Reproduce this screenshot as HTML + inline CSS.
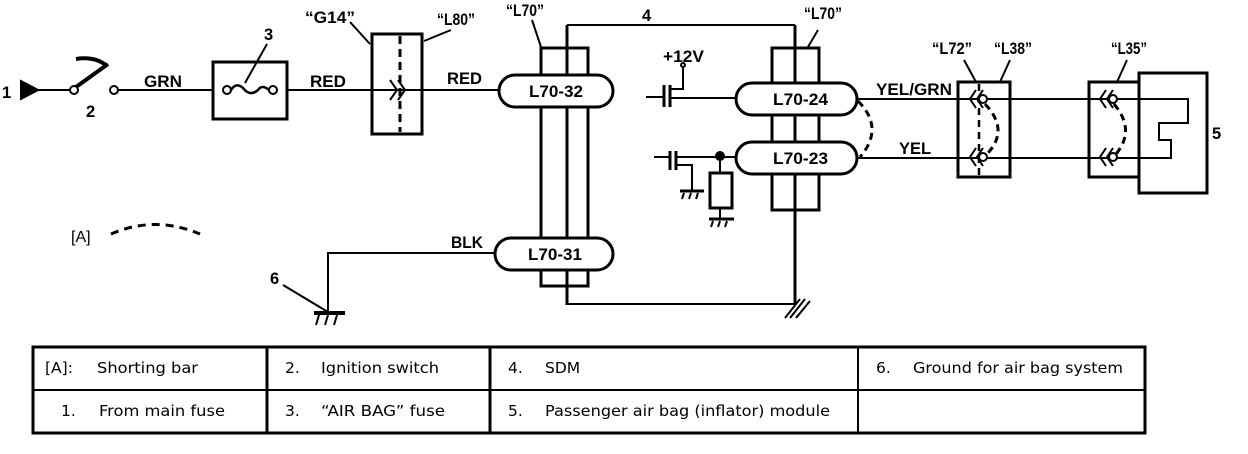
<!DOCTYPE html>
<html><head><meta charset="utf-8"><style>
html,body{margin:0;padding:0;background:#fff;}
svg{display:block;}
.l{font-family:"Liberation Sans",sans-serif;font-weight:bold;font-size:16.5px;fill:#000;}
.t{font-family:"DejaVu Sans","Liberation Sans",sans-serif;font-size:15.5px;fill:#000;}
</style></head><body>
<svg width="1248" height="454" viewBox="0 0 1248 454" xmlns="http://www.w3.org/2000/svg">
<g stroke="#000" fill="none" stroke-width="2">
<polygon points="21,81 21,99 38,90" fill="#000"/>
<line x1="38" y1="90" x2="70" y2="90"/>
<circle cx="74" cy="90" r="4"/>
<line x1="76" y1="87" x2="108" y2="64" stroke-width="4"/>
<path d="M76,59 Q95,56 107,66" stroke-width="4"/>
<circle cx="114" cy="90" r="4"/>
<line x1="118" y1="90" x2="213" y2="90"/>
<rect x="213" y="62" width="74" height="57" stroke-width="3"/>
<circle cx="227" cy="90" r="4"/><circle cx="273" cy="90" r="4"/>
<path d="M231,90 Q236,82 243,88 Q250,97 258,90 Q262,84 269,90" stroke-width="2.5"/>
<line x1="267" y1="44" x2="245" y2="83"/>
<line x1="287" y1="90" x2="499" y2="90"/>
<rect x="372" y="34" width="50" height="100" stroke-width="3"/>
<line x1="400" y1="36" x2="400" y2="132" stroke-width="3" stroke-dasharray="8,5"/>
<polyline points="390,80 397,90 390,100"/><polyline points="398,80 405,90 398,100"/>
<line x1="350" y1="22" x2="370" y2="44"/>
<line x1="451" y1="30" x2="424" y2="41"/>
<rect x="541" y="48" width="47" height="238" stroke-width="3"/>
<line x1="567" y1="25" x2="567" y2="305" stroke-width="3"/>
<line x1="567" y1="25" x2="795" y2="25" stroke-width="2"/>
<line x1="567" y1="304" x2="795" y2="304" stroke-width="2"/>
<line x1="795" y1="25" x2="795" y2="304" stroke-width="3"/>
<rect x="499" y="75" width="114" height="32" rx="16" fill="#fff" stroke-width="3"/>
<rect x="495" y="238" width="118" height="32" rx="16" fill="#fff" stroke-width="3"/>
<line x1="532" y1="20" x2="541" y2="47"/>
<polyline points="495,253 328,253 328,313"/>
<line x1="314" y1="313" x2="345" y2="313" stroke-width="4"/>
<line x1="319" y1="315" x2="316" y2="325"/><line x1="328" y1="315" x2="325" y2="325"/><line x1="337" y1="315" x2="334" y2="325"/>
<line x1="283" y1="285" x2="328" y2="312"/>
<path d="M111,234 Q155,215 200,234" stroke-width="3" stroke-dasharray="8,6"/>
<rect x="772" y="48" width="47" height="162" stroke-width="3"/>
<rect x="736" y="83" width="121" height="32" rx="16" fill="#fff" stroke-width="3"/>
<rect x="736" y="142" width="121" height="32" rx="16" fill="#fff" stroke-width="3"/>
<line x1="818" y1="30" x2="808" y2="47"/>
<line x1="785" y1="318" x2="800" y2="299" stroke-width="2"/>
<line x1="790" y1="318" x2="805" y2="299" stroke-width="2"/>
<line x1="796" y1="318" x2="810" y2="301" stroke-width="2"/>
<line x1="646" y1="97" x2="664" y2="97"/>
<line x1="664" y1="85" x2="664" y2="107" stroke-width="3"/>
<line x1="670" y1="85" x2="670" y2="107" stroke-width="3"/>
<line x1="670" y1="98" x2="736" y2="98"/>
<polyline points="683,66 683,89 671,89"/>
<circle cx="683" cy="65" r="2" fill="#fff"/>
<line x1="654" y1="157" x2="670" y2="157"/>
<line x1="670" y1="151" x2="670" y2="170" stroke-width="3"/>
<line x1="676" y1="151" x2="676" y2="170" stroke-width="3"/>
<line x1="676" y1="157" x2="736" y2="157"/>
<polyline points="676,165 692,165 692,190"/>
<line x1="680" y1="191" x2="704" y2="191" stroke-width="3"/>
<line x1="684" y1="193" x2="682" y2="199"/><line x1="691" y1="193" x2="689" y2="199"/><line x1="698" y1="193" x2="696" y2="199"/>
<circle cx="720" cy="156" r="4" fill="#000"/>
<line x1="720" y1="156" x2="720" y2="173"/>
<rect x="710" y="173" width="22" height="35" stroke-width="3"/>
<line x1="720" y1="208" x2="720" y2="218"/>
<line x1="709" y1="219" x2="734" y2="219" stroke-width="3"/>
<line x1="713" y1="221" x2="711" y2="227"/><line x1="720" y1="221" x2="718" y2="227"/><line x1="727" y1="221" x2="725" y2="227"/>
<path d="M858,101 Q885,128 860,157" stroke-width="3" stroke-dasharray="7,5"/>
<polyline points="857,99 1188,99 1188,123 1159,123 1159,140 1171,140 1171,158 857,158"/>
<rect x="958" y="82" width="52" height="95" stroke-width="3"/>
<line x1="979" y1="84" x2="979" y2="175" stroke-width="2.5" stroke-dasharray="7,5"/>
<path d="M985,104 Q1010,130 987,154" stroke-width="3" stroke-dasharray="7,5"/>
<circle cx="983" cy="99" r="4" fill="#fff"/><circle cx="983" cy="157" r="4" fill="#fff"/>
<polyline points="976,90 970,99 976,108"/><polyline points="983,90 977,99 983,108"/>
<polyline points="976,148 970,157 976,166"/><polyline points="983,148 977,157 983,166"/>
<line x1="964" y1="60" x2="976" y2="82"/>
<line x1="1010" y1="60" x2="1000" y2="82"/>
<rect x="1089" y="82" width="50" height="95" stroke-width="3"/>
<path d="M1114,104 Q1136,130 1116,154" stroke-width="3" stroke-dasharray="7,5"/>
<circle cx="1113" cy="99" r="4" fill="#fff"/><circle cx="1113" cy="157" r="4" fill="#fff"/>
<polyline points="1106,90 1100,99 1106,108"/><polyline points="1113,90 1107,99 1113,108"/>
<polyline points="1106,148 1100,157 1106,166"/><polyline points="1113,148 1107,157 1113,166"/>
<line x1="1127" y1="60" x2="1117" y2="82"/>
<rect x="1139" y="73" width="68" height="120" stroke-width="3"/>
</g>
<g class="l">
<text x="2" y="98">1</text>
<text x="86" y="117">2</text>
<text x="264" y="40">3</text>
<text x="144" y="87" textLength="38" lengthAdjust="spacingAndGlyphs">GRN</text>
<text x="310" y="87" textLength="36" lengthAdjust="spacingAndGlyphs">RED</text>
<text x="305" y="23" textLength="50" lengthAdjust="spacingAndGlyphs">“G14”</text>
<text x="437" y="25" textLength="38" lengthAdjust="spacingAndGlyphs">“L80”</text>
<text x="447" y="84" textLength="35" lengthAdjust="spacingAndGlyphs">RED</text>
<text x="506" y="16" textLength="38" lengthAdjust="spacingAndGlyphs">“L70”</text>
<text x="529" y="97" textLength="54" lengthAdjust="spacingAndGlyphs">L70-32</text>
<text x="528" y="260" textLength="54" lengthAdjust="spacingAndGlyphs">L70-31</text>
<text x="451" y="248" textLength="32" lengthAdjust="spacingAndGlyphs">BLK</text>
<text x="270" y="284">6</text>
<text x="642" y="21">4</text>
<text x="804" y="19" textLength="38" lengthAdjust="spacingAndGlyphs">“L70”</text>
<text x="663" y="62" textLength="41" lengthAdjust="spacingAndGlyphs">+12V</text>
<text x="773" y="105" textLength="55" lengthAdjust="spacingAndGlyphs">L70-24</text>
<text x="773" y="164" textLength="55" lengthAdjust="spacingAndGlyphs">L70-23</text>
<text x="876" y="95" textLength="76" lengthAdjust="spacingAndGlyphs">YEL/GRN</text>
<text x="899" y="154" textLength="32" lengthAdjust="spacingAndGlyphs">YEL</text>
<text x="932" y="54" textLength="40" lengthAdjust="spacingAndGlyphs">“L72”</text>
<text x="994" y="54" textLength="38" lengthAdjust="spacingAndGlyphs">“L38”</text>
<text x="1111" y="54" textLength="36" lengthAdjust="spacingAndGlyphs">“L35”</text>
<text x="1212" y="139">5</text>
</g>
<text x="71" y="242" font-family="Liberation Sans,sans-serif" font-size="16">[A]</text>
<g stroke="#000" fill="none">
<rect x="33" y="347" width="1112" height="86" stroke-width="3"/>
<line x1="33" y1="390" x2="1145" y2="390" stroke-width="2"/>
<line x1="267" y1="347" x2="267" y2="433" stroke-width="3"/>
<line x1="490" y1="347" x2="490" y2="433" stroke-width="3"/>
<line x1="858" y1="347" x2="858" y2="433" stroke-width="2"/>
</g>
<g class="t">
<text x="45" y="373">[A]:</text><text x="97" y="373" textLength="101" lengthAdjust="spacingAndGlyphs">Shorting bar</text>
<text x="61" y="416">1.</text><text x="99" y="416" textLength="126" lengthAdjust="spacingAndGlyphs">From main fuse</text>
<text x="285" y="373">2.</text><text x="321" y="373" textLength="118" lengthAdjust="spacingAndGlyphs">Ignition switch</text>
<text x="285" y="416">3.</text><text x="321" y="416" textLength="124" lengthAdjust="spacingAndGlyphs">“AIR BAG” fuse</text>
<text x="508" y="373">4.</text><text x="545" y="373">SDM</text>
<text x="508" y="416">5.</text><text x="545" y="416" textLength="285" lengthAdjust="spacingAndGlyphs">Passenger air bag (inflator) module</text>
<text x="876" y="373">6.</text><text x="913" y="373" textLength="210" lengthAdjust="spacingAndGlyphs">Ground for air bag system</text>
</g>
</svg>
</body></html>
